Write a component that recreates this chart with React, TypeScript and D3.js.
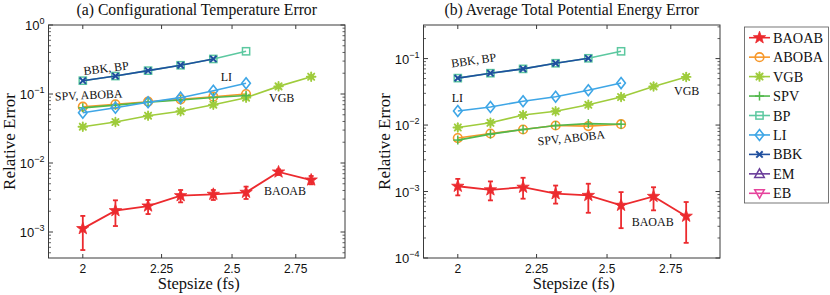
import React from "react";
import * as d3 from "d3";

// ---------- data ----------
const stepsizes = [2, 2.1, 2.205, 2.315, 2.431, 2.553, 2.68, 2.814];
const xTickValues = [2, 2.25, 2.5, 2.75];
const xDomain = [1.9, 2.96];

const seriesNames = ["BAOAB", "ABOBA", "VGB", "SPV", "BP", "LI", "BBK", "EM", "EB"];
const seriesColors = ["#ec2a2e", "#f7982a", "#9fcc3c", "#52b84c", "#5cc8a0", "#3ea6e6", "#1f4f9e", "#6a3d9a", "#e6439c"];
const seriesMarkers = ["star", "circle", "asterisk", "plus", "square", "diamond", "x", "triUp", "triDown"];

// Panel (a) Configurational Temperature Error
const aBAOAB = [1.12e-3, 2.04e-3, 2.38e-3, 3.36e-3, 3.52e-3, 3.76e-3, 7.41e-3, 5.67e-3];
const aBAOABLow = [5.48e-4, 1.22e-3, 1.82e-3, 2.69e-3, 2.91e-3, 3.01e-3, 6.7e-3, 4.91e-3];
const aBAOABHigh = [1.71e-3, 2.88e-3, 2.91e-3, 4.06e-3, 4.06e-3, 4.54e-3, 8.1e-3, 6.48e-3];
const aABOBA = [0.0655, 0.0709, 0.0774, 0.0838, 0.0914, 0.1];
const aVGB = [0.0336, 0.0393, 0.0485, 0.0561, 0.07, 0.0885, 0.129, 0.178];
const aSPV = [0.063, 0.069, 0.076, 0.082, 0.089, 0.095];
const aBP = [0.156, 0.182, 0.218, 0.261, 0.322, 0.416];
const aLI = [0.0536, 0.0633, 0.0758, 0.0885, 0.1116, 0.143];
const aBBK = [0.156, 0.182, 0.218, 0.261, 0.322];

// Panel (b) Average Total Potential Energy Error
const bBAOAB = [1.2e-3, 1.06e-3, 1.16e-3, 9.27e-4, 8.74e-4, 6.2e-4, 8.45e-4, 4.25e-4];
const bBAOABLow = [8.75e-4, 7.36e-4, 7.8e-4, 6.58e-4, 4.79e-4, 2.81e-4, 5.21e-4, 1.69e-4];
const bBAOABHigh = [1.55e-3, 1.42e-3, 1.61e-3, 1.23e-3, 1.31e-3, 9.8e-4, 1.16e-3, 6.95e-4];
const bABOBA = [0.00637, 0.00746, 0.00857, 0.00984, 0.00964, 0.0103];
const bVGB = [0.0092, 0.0108, 0.0142, 0.0161, 0.0202, 0.0264, 0.0381, 0.053];
const bSPV = [0.00594, 0.00731, 0.00857, 0.00984, 0.0105, 0.0103];
const bBP = [0.0508, 0.0603, 0.07, 0.0851, 0.101, 0.1286];
const bLI = [0.0163, 0.0187, 0.0228, 0.0267, 0.0333, 0.0428];
const bBBK = [0.0508, 0.0603, 0.07, 0.0851, 0.101];

const titles = ["(a) Configurational Temperature Error", "(b) Average Total Potential Energy Error"];
const xLabel = "Stepsize (fs)";
const yLabel = "Relative Error";

// ---------- layout ----------
const W = 830;
const H = 295;
const TOP = 25;
const BOTTOM = 258;
const SERIF = "'Liberation Serif', 'Times New Roman', serif";
const SANS = "'Liberation Sans', Arial, sans-serif";
const AXIS = "#3a3a3a";

type Annot = { text: string; dx: number; y: number; rot: number };

const panels = [
  {
    title: titles[0],
    left: 48.5,
    right: 345,
    yDomain: [4.2e-4, 1],
    yLabelX: 9,
    baoab: aBAOAB,
    low: aBAOABLow,
    high: aBAOABHigh,
    lines: [aABOBA, aVGB, aSPV, aBP, aLI, aBBK],
    annots: [
      { text: "BBK, BP", dx: 35.5, y: 75, rot: -7 },
      { text: "LI", dx: 172.2, y: 81, rot: 0 },
      { text: "SPV, ABOBA", dx: 6.5, y: 100.5, rot: -2.5 },
      { text: "VGB", dx: 220.5, y: 102, rot: 0 },
      { text: "BAOAB", dx: 215.5, y: 195, rot: 0 },
    ] as Annot[],
  },
  {
    title: titles[1],
    left: 423.5,
    right: 720,
    yDomain: [1e-4, 0.32],
    yLabelX: 384,
    baoab: bBAOAB,
    low: bBAOABLow,
    high: bBAOABHigh,
    lines: [bABOBA, bVGB, bSPV, bBP, bLI, bBBK],
    annots: [
      { text: "BBK, BP", dx: 28.2, y: 67.5, rot: -8 },
      { text: "LI", dx: 28.2, y: 102, rot: 0 },
      { text: "SPV, ABOBA", dx: 114.5, y: 145.5, rot: -6 },
      { text: "VGB", dx: 250.5, y: 94.5, rot: 0 },
      { text: "BAOAB", dx: 208.2, y: 226, rot: 0 },
    ] as Annot[],
  },
];

// ---------- markers ----------
function starPath(R: number) {
  const pts: string[] = [];
  for (let i = 0; i < 10; i++) {
    const a = (-90 + i * 36) * (Math.PI / 180);
    const r = i % 2 === 0 ? R : R * 0.4;
    pts.push(`${(r * Math.cos(a)).toFixed(2)},${(r * Math.sin(a)).toFixed(2)}`);
  }
  return "M" + pts.join("L") + "Z";
}

function Marker({ type, cx, cy, color }: { type: string; cx: number; cy: number; color: string }) {
  const t = `translate(${cx},${cy})`;
  switch (type) {
    case "star":
      return <path transform={t} d={starPath(6.5)} fill={color} stroke={color} strokeWidth={0.8} strokeLinejoin="round" />;
    case "circle":
      return <circle cx={cx} cy={cy} r={4.3} fill="none" stroke={color} strokeWidth={1.6} />;
    case "asterisk":
      return (
        <g transform={t} stroke={color} strokeWidth={1.9} strokeLinecap="round">
          <circle r={2.8} fill={color} stroke="none" />
          <line x1={-4.3} y1={0} x2={4.3} y2={0} />
          <line x1={0} y1={-4.3} x2={0} y2={4.3} />
          <line x1={-3.1} y1={-3.1} x2={3.1} y2={3.1} />
          <line x1={-3.1} y1={3.1} x2={3.1} y2={-3.1} />
        </g>
      );
    case "plus":
      return (
        <g transform={t} stroke={color} strokeWidth={1.5}>
          <line x1={-4.5} y1={0} x2={4.5} y2={0} />
          <line x1={0} y1={-4.5} x2={0} y2={4.5} />
        </g>
      );
    case "square":
      return <rect x={cx - 3.6} y={cy - 3.6} width={7.2} height={7.2} fill="none" stroke={color} strokeWidth={1.5} />;
    case "diamond":
      return <path transform={t} d="M0,-5.5L4.3,0L0,5.5L-4.3,0Z" fill="none" stroke={color} strokeWidth={1.6} />;
    case "x":
      return (
        <g transform={t} stroke={color} strokeWidth={2}>
          <line x1={-3.2} y1={-3.2} x2={3.2} y2={3.2} />
          <line x1={-3.2} y1={3.2} x2={3.2} y2={-3.2} />
        </g>
      );
    case "triUp":
      return <path transform={t} d="M0,-5L4.8,3.6L-4.8,3.6Z" fill="none" stroke={color} strokeWidth={1.5} />;
    case "triDown":
      return <path transform={t} d="M0,5L4.8,-3.6L-4.8,-3.6Z" fill="none" stroke={color} strokeWidth={1.5} />;
    default:
      return null;
  }
}

function Panel({ p }: { p: (typeof panels)[number] }) {
  const x = d3.scaleLog().domain(xDomain).range([p.left, p.right]);
  const y = d3.scaleLog().domain(p.yDomain).range([BOTTOM, TOP]);
  const line = d3
    .line<number>()
    .x((_, i) => x(stepsizes[i]))
    .y((d) => y(d));

  const [ymin, ymax] = p.yDomain;
  const dLo = Math.floor(Math.log10(ymin));
  const dHi = Math.ceil(Math.log10(ymax));
  const majors: number[] = [];
  const minors: number[] = [];
  for (let d = dLo; d <= dHi; d++) {
    const v = Math.pow(10, d);
    if (v >= ymin * 0.999 && v <= ymax * 1.001) majors.push(d);
    for (let k = 2; k <= 9; k++) {
      const m = k * v;
      if (m > ymin && m < ymax) minors.push(m);
    }
  }
  const cx = (p.left + p.right) / 2;
  const lineSeries = [1, 2, 3, 4, 5, 6];
  const red = seriesColors[0];

  return (
    <g>
      {/* title */}
      <text x={cx} y={15} textAnchor="middle" fontFamily={SERIF} fontSize={15.7} fill="#111">
        {p.title}
      </text>
      {/* frame */}
      <rect x={p.left} y={TOP} width={p.right - p.left} height={BOTTOM - TOP} fill="white" stroke={AXIS} strokeWidth={1} />
      {/* x ticks */}
      {xTickValues.map((v) => (
        <g key={"xt" + v}>
          <line x1={x(v)} x2={x(v)} y1={BOTTOM} y2={BOTTOM - 4} stroke={AXIS} />
          <line x1={x(v)} x2={x(v)} y1={TOP} y2={TOP + 4} stroke={AXIS} />
          <text x={x(v)} y={BOTTOM + 14.5} textAnchor="middle" fontFamily={SANS} fontSize={12} fill="#111">
            {String(v)}
          </text>
        </g>
      ))}
      {/* y ticks */}
      {minors.map((m, i) => (
        <g key={"ym" + i}>
          <line x1={p.left} x2={p.left + 2.5} y1={y(m)} y2={y(m)} stroke={AXIS} strokeWidth={0.8} />
          <line x1={p.right} x2={p.right - 2.5} y1={y(m)} y2={y(m)} stroke={AXIS} strokeWidth={0.8} />
        </g>
      ))}
      {majors.map((d) => (
        <g key={"yM" + d}>
          <line x1={p.left} x2={p.left + 4.5} y1={y(Math.pow(10, d))} y2={y(Math.pow(10, d))} stroke={AXIS} />
          <line x1={p.right} x2={p.right - 4.5} y1={y(Math.pow(10, d))} y2={y(Math.pow(10, d))} stroke={AXIS} />
          <text x={p.left - 4} y={y(Math.pow(10, d)) + 5} textAnchor="end" fontFamily={SANS} fontSize={13} fill="#111">
            10
            <tspan dy={-6} fontSize={9}>
              {d === 0 ? "0" : "\u2212" + Math.abs(d)}
            </tspan>
          </text>
        </g>
      ))}
      {/* axis labels */}
      <text x={cx + 2} y={289} textAnchor="middle" fontFamily={SERIF} fontSize={16.5} fill="#111">
        {xLabel}
      </text>
      <text
        transform={`translate(${p.yLabelX + 6},${(TOP + BOTTOM) / 2}) rotate(-90)`}
        textAnchor="middle"
        fontFamily={SERIF}
        fontSize={17}
        fill="#111"
      >
        {yLabel}
      </text>

      {/* BAOAB with error bars */}
      {p.baoab.map((_, i) => {
        const xx = x(stepsizes[i]);
        return (
          <g key={"eb" + i} stroke={red} strokeWidth={1.8}>
            <line x1={xx} x2={xx} y1={y(p.low[i])} y2={y(p.high[i])} />
            <line x1={xx - 2.5} x2={xx + 2.5} y1={y(p.low[i])} y2={y(p.low[i])} />
            <line x1={xx - 2.5} x2={xx + 2.5} y1={y(p.high[i])} y2={y(p.high[i])} />
          </g>
        );
      })}
      <path d={line(p.baoab) || ""} fill="none" stroke={red} strokeWidth={1.8} />
      {p.baoab.map((v, i) => (
        <Marker key={"bm" + i} type={seriesMarkers[0]} cx={x(stepsizes[i])} cy={y(v)} color={red} />
      ))}

      {/* other series */}
      {p.lines.map((vals, j) => {
        const s = lineSeries[j];
        const c = seriesColors[s];
        return (
          <g key={"s" + s}>
            <path d={line(vals) || ""} fill="none" stroke={c} strokeWidth={1.6} />
            {vals.map((v, i) => (
              <Marker key={i} type={seriesMarkers[s]} cx={x(stepsizes[i])} cy={y(v)} color={c} />
            ))}
          </g>
        );
      })}

      {/* annotations */}
      {p.annots.map((a, i) => (
        <text
          key={"an" + i}
          transform={`translate(${p.left + a.dx},${a.y}) rotate(${a.rot})`}
          fontFamily={SERIF}
          fontSize={12}
          fill="#111"
        >
          {a.text}
        </text>
      ))}
    </g>
  );
}

function Legend() {
  const x0 = 744.5;
  const y0 = 27;
  const rowH = 19.45;
  return (
    <g>
      <rect x={x0} y={y0} width={84} height={176} fill="white" stroke="#555" strokeWidth={0.8} />
      {seriesNames.map((n, i) => {
        const yy = y0 + 10.7 + i * rowH;
        const c = seriesColors[i];
        return (
          <g key={n}>
            <line x1={749} x2={770} y1={yy} y2={yy} stroke={c} strokeWidth={1.6} />
            <Marker type={seriesMarkers[i]} cx={759.5} cy={yy} color={c} />
            <text x={773} y={yy + 5} fontFamily={SERIF} fontSize={14.3} fill="#111">
              {n}
            </text>
          </g>
        );
      })}
    </g>
  );
}

export default function App() {
  return (
    <svg
      width={W}
      height={H}
      viewBox={`0 0 ${W} ${H}`}
      style={{ position: "absolute", left: 0, top: 0, background: "white" }}
    >
      <rect width={W} height={H} fill="white" />
      {panels.map((p, i) => (
        <Panel key={i} p={p} />
      ))}
      <Legend />
    </svg>
  );
}
